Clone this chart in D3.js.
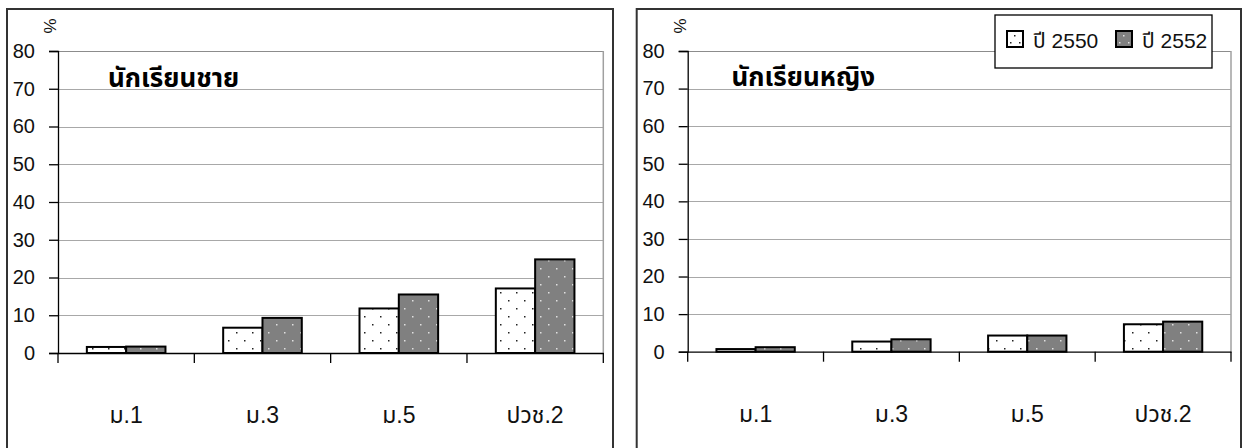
<!DOCTYPE html>
<html>
<head>
<meta charset="utf-8">
<script src="https://cdn.jsdelivr.net/npm/d3@7"></script>
<style>
  html, body { margin: 0; padding: 0; background: #fff; }
  svg { display: block; }
  text { font-family: "Liberation Sans", Arial, "Noto Sans Thai", sans-serif; }
</style>
</head>
<body>
<svg id="chart" width="1245" height="448"></svg>
<script>
const categories = ["ม.1", "ม.3", "ม.5", "ปวช.2"];
const seriesNames = ["ปี 2550", "ปี 2552"];
const maleValues2550 = [1.6, 6.7, 11.8, 17.1];
const maleValues2552 = [1.7, 9.3, 15.5, 24.8];
const femaleValues2550 = [0.7, 2.7, 4.3, 7.3];
const femaleValues2552 = [1.2, 3.3, 4.3, 8.0];
const yTicks = [0, 10, 20, 30, 40, 50, 60, 70, 80];
const panelTitles = ["นักเรียนชาย", "นักเรียนหญิง"];

const svg = d3.select("#chart");
const defs = svg.append("defs");

// patterns
const p1 = defs.append("pattern").attr("id", "pat2550").attr("patternUnits", "userSpaceOnUse")
  .attr("width", 16).attr("height", 16);
p1.append("rect").attr("width", 16).attr("height", 16).attr("fill", "#fff");
p1.append("rect").attr("x", 4).attr("y", 4).attr("width", 1.5).attr("height", 1.5).attr("fill", "#222");
p1.append("rect").attr("x", 12).attr("y", 12).attr("width", 1.5).attr("height", 1.5).attr("fill", "#222");

const p2 = defs.append("pattern").attr("id", "pat2552").attr("patternUnits", "userSpaceOnUse")
  .attr("width", 16).attr("height", 16);
p2.append("rect").attr("width", 16).attr("height", 16).attr("fill", "#808080");
p2.append("rect").attr("x", 4).attr("y", 4).attr("width", 1.5).attr("height", 1.5).attr("fill", "#e0e0e0");
p2.append("rect").attr("x", 12).attr("y", 12).attr("width", 1.5).attr("height", 1.5).attr("fill", "#e0e0e0");

const fills = ["url(#pat2550)", "url(#pat2552)"];

const panels = [
  { frame: [7, 9, 613, 460], plot: [58, 51, 603.3, 353], title: panelTitles[0], titleX: 108, titleY: 87,
    values: [maleValues2550, maleValues2552], legend: false },
  { frame: [636.7, 9, 1241, 460], plot: [687.7, 51, 1231, 351.7], title: panelTitles[1], titleX: 731.5, titleY: 86,
    values: [femaleValues2550, femaleValues2552], legend: true }
];

panels.forEach(pn => {
  const g = svg.append("g");
  const [fx0, fy0, fx1, fy1] = pn.frame;
  const [px0, py0, px1, py1] = pn.plot;

  g.append("rect").attr("x", fx0).attr("y", fy0).attr("width", fx1 - fx0).attr("height", fy1 - fy0)
    .attr("fill", "#fff").attr("stroke", "#333").attr("stroke-width", 2);

  const y = d3.scaleLinear().domain([0, 80]).range([py1, py0]);
  const x = d3.scaleBand().domain(categories).range([px0, px1]).paddingInner(0).paddingOuter(0);
  const xs = d3.scaleBand().domain(seriesNames).range([0, x.bandwidth()]).paddingInner(0).paddingOuter(0.734);

  // gridlines
  g.append("g").selectAll("line").data(yTicks.filter(t => t > 0)).join("line")
    .attr("x1", px0).attr("x2", px1)
    .attr("y1", d => Math.round(y(d)) + 0.5).attr("y2", d => Math.round(y(d)) + 0.5)
    .attr("stroke", d => d === 80 ? "#8c8c8c" : "#a8a8a8").attr("stroke-width", 1.2);
  // right plot border
  g.append("line").attr("x1", px1).attr("x2", px1).attr("y1", y(80)).attr("y2", y(0))
    .attr("stroke", "#a0a0a0").attr("stroke-width", 1.5);

  // bars
  seriesNames.forEach((s, si) => {
    g.append("g").selectAll("rect").data(pn.values[si]).join("rect")
      .attr("x", (d, i) => x(categories[i]) + xs(s))
      .attr("y", d => y(d))
      .attr("width", xs.bandwidth())
      .attr("height", d => y(0) - y(d))
      .attr("fill", fills[si])
      .attr("stroke", "#000").attr("stroke-width", 2);
  });

  // y axis
  const yAxis = d3.axisLeft(y).tickValues(yTicks).tickSize(9).tickPadding(14).tickFormat(d3.format("d"));
  const ya = g.append("g").attr("transform", `translate(${px0},0)`).call(yAxis);
  ya.select(".domain").attr("stroke", "#000").attr("stroke-width", 1.3);
  ya.selectAll(".tick line").attr("stroke", "#000").attr("stroke-width", 1.3);
  ya.selectAll(".tick text").attr("font-size", 20).attr("fill", "#111")
    .attr("font-family", "'Liberation Sans', Arial, sans-serif");

  // x axis
  const xAxis = d3.axisBottom(x).tickSize(0).tickFormat("");
  const xa = g.append("g").attr("transform", `translate(0,${y(0)})`).call(xAxis);
  xa.select(".domain").attr("stroke", "#000").attr("stroke-width", 1.3);
  // category boundary ticks
  const bounds = categories.map(c => x(c)).concat([px1]);
  xa.append("g").selectAll("line").data(bounds).join("line")
    .attr("x1", d => d).attr("x2", d => d).attr("y1", 0).attr("y2", 10)
    .attr("stroke", "#000").attr("stroke-width", 1.3);
  xa.append("g").selectAll("text").data(categories).join("text")
    .attr("x", d => x(d) + x.bandwidth() / 2).attr("y", 70)
    .attr("text-anchor", "middle").attr("font-size", 23).attr("fill", "#111").text(d => d);

  // % label
  g.append("text").attr("transform", `translate(${px0 - 8},${py0 - 25}) rotate(-90)`)
    .attr("text-anchor", "middle").attr("dy", "0.35em").attr("font-size", 17).attr("fill", "#111").text("%");

  // panel title
  g.append("text").attr("x", pn.titleX).attr("y", pn.titleY).attr("font-size", 26)
    .attr("font-weight", "bold").attr("fill", "#000").text(pn.title);

  if (pn.legend) {
    const lg = g.append("g");
    lg.append("rect").attr("x", 995).attr("y", 15).attr("width", 217).attr("height", 53)
      .attr("fill", "#fff").attr("stroke", "#000").attr("stroke-width", 1.3);
    const lx = [1007, 1116];
    seriesNames.forEach((s, si) => {
      lg.append("rect").attr("x", lx[si]).attr("y", 31).attr("width", 16).attr("height", 16)
        .attr("fill", si === 0 ? "#fff" : "#808080").attr("stroke", "#000").attr("stroke-width", 2);
      lg.append("rect").attr("x", lx[si] + 7).attr("y", 35).attr("width", 1.5).attr("height", 1.5)
        .attr("fill", si === 0 ? "#222" : "#e0e0e0");
      lg.append("rect").attr("x", lx[si] + 3).attr("y", 42).attr("width", 1.5).attr("height", 1.5)
        .attr("fill", si === 0 ? "#222" : "#e0e0e0");
      lg.append("rect").attr("x", lx[si] + 12).attr("y", 42).attr("width", 1.5).attr("height", 1.5)
        .attr("fill", si === 0 ? "#222" : "#e0e0e0");
      lg.append("text").attr("x", lx[si] + 26).attr("y", 48).attr("font-size", 21).attr("fill", "#111").text(s);
    });
  }
});
</script>
</body>
</html>
